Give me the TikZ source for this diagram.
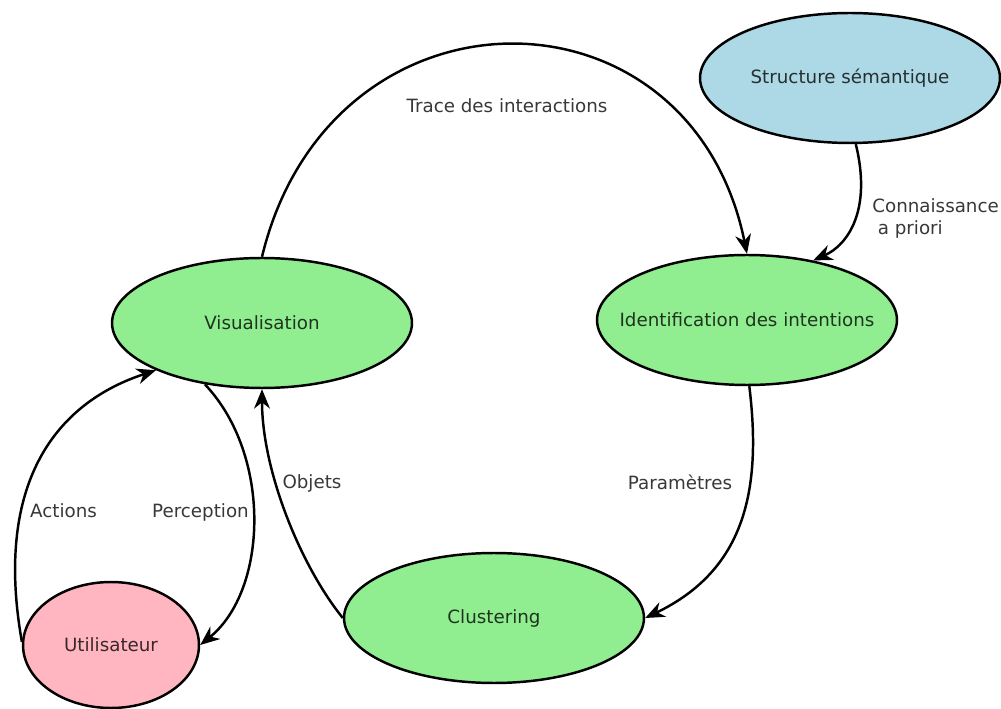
\documentclass[tikz,border=0pt]{standalone}
\usepackage{fontspec}
\setmainfont{DejaVu Sans}
\usetikzlibrary{shapes.geometric,arrows.meta}
\definecolor{lgreen}{HTML}{90EE90}
\definecolor{lblue}{HTML}{ADD8E6}
\definecolor{lpink}{HTML}{FFB6C1}
\newcommand{\ztxt}[1]{\makebox[0pt]{#1}}
\begin{document}
\begin{tikzpicture}[x=0.02cm,y=-0.02cm,
  every node/.style={font=\fontsize{10.4}{12.5}\selectfont, text=black, text opacity=0.78},
  state/.style={ellipse, draw=black, line width=1.4pt, minimum width=6cm, minimum height=2.6cm, inner sep=0pt},
  conn/.style={line width=1.4pt, -{Stealth[length=11pt,width=9pt,inset=3.5pt]}},
  lbl/.style={anchor=base, inner sep=0pt}]
\useasboundingbox (0,0) rectangle (1001,709);
% nodes
\node[state, fill=lgreen] (vis) at (262,323) {\ztxt{Visualisation}};
\node[state, fill=lgreen] (ident) at (747,320) {\ztxt{Identification des intentions}};
\node[state, fill=lblue] (sem) at (850,78) {\ztxt{Structure sémantique}};
\node[state, fill=lgreen] (clust) at (494,618) {\ztxt{Clustering}};
\node[state, fill=lpink, minimum width=3.52cm, minimum height=2.52cm] (user) at (111,645) {\ztxt{Utilisateur}};
% connectors
\draw[conn] (vis.north) .. controls (330,-25) and (690,-25) .. (ident.north);
\draw[conn] (sem.-85) .. controls (872,210) and (848,245) .. (ident.42);
\draw[conn] (ident.-88) .. controls (762,490) and (745,570) .. (clust.east);
\draw[conn] (clust.west) .. controls (300,565) and (262,470) .. (vis.south);
\draw[conn] (vis.-133) .. controls (272,455) and (268,590) .. (user.east);
\draw[conn] (user.178) .. controls (-5,490) and (50,405) .. (vis.204);
% labels
\node[lbl] (ltrace) at (507,113) {Trace des interactions};
\node[anchor=west, inner sep=0pt, align=left, font=\fontsize{10.4}{13}\selectfont] (lconn) at (872,218.5) {Connaissance\\\hspace*{0.3em}a priori};
\node[lbl] (lparam) at (680,490) {Paramètres};
\node[lbl] (lobj) at (312,488) {Objets};
\node[lbl] (lact) at (63.5,518) {Actions};
\node[lbl] (lperc) at (200.5,518) {Perception};
\end{tikzpicture}
\end{document}
